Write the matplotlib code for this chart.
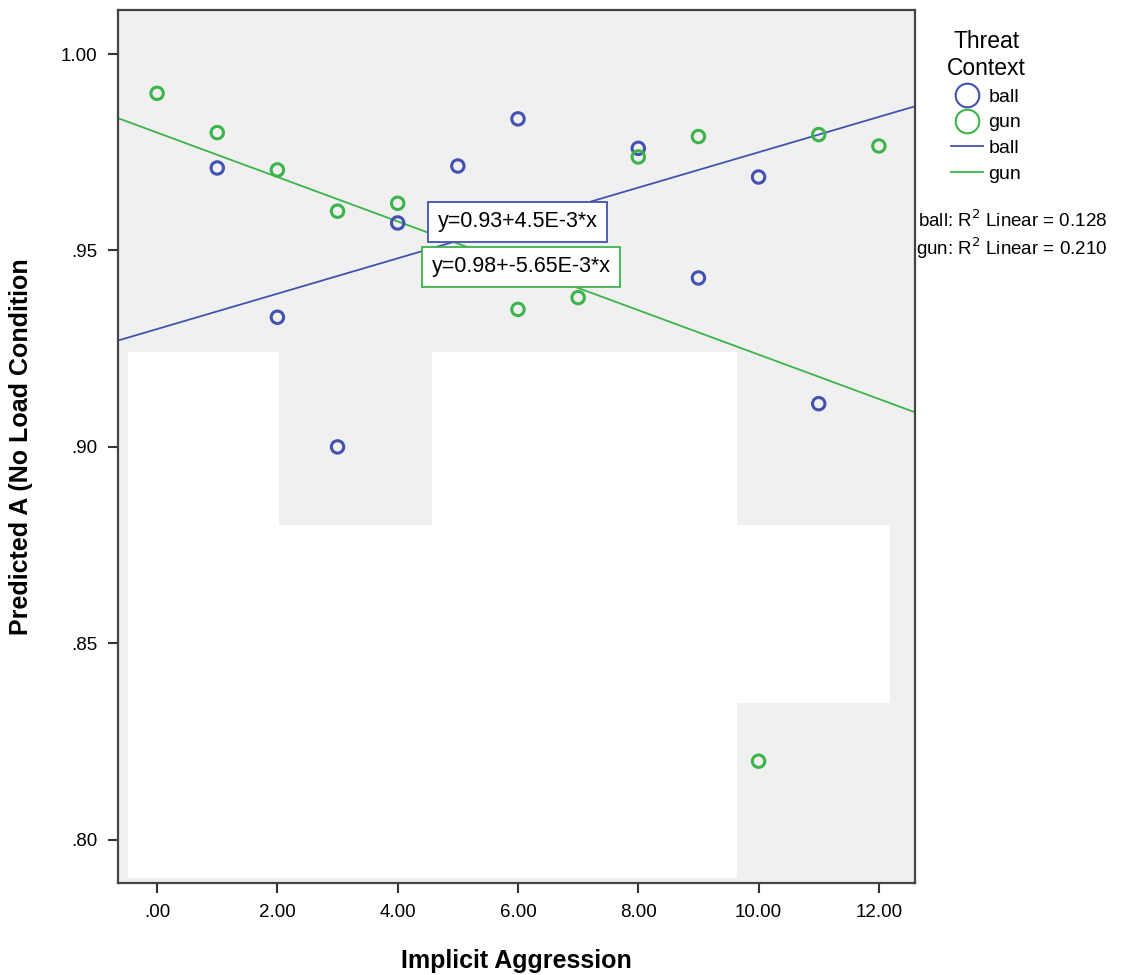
import matplotlib.pyplot as plt
import matplotlib.patches as mpatches
from matplotlib.lines import Line2D
import numpy as np

plt.rcParams['font.family'] = ['Liberation Sans', 'DejaVu Sans']

# scatter values
ball_x = [1, 2, 3, 4, 5, 6, 8, 9, 10, 11]
ball_y = [0.971, 0.933, 0.900, 0.957, 0.9715, 0.9835, 0.976, 0.943, 0.9687, 0.911]
gun_x = [0, 1, 2, 3, 4, 6, 7, 8, 9, 10, 11, 12]
gun_y = [0.990, 0.980, 0.9705, 0.960, 0.962, 0.935, 0.938, 0.9738, 0.979, 0.820, 0.9795, 0.9766]

# linear fits as printed on the chart (intercept, slope)
ball_fit = (0.93, 4.5e-3)
gun_fit = (0.98, -5.65e-3)
ball_r2 = 0.128
gun_r2 = 0.210

x_ticks = [0, 2, 4, 6, 8, 10, 12]
x_labels = ['.00', '2.00', '4.00', '6.00', '8.00', '10.00', '12.00']
y_ticks = [0.80, 0.85, 0.90, 0.95, 1.00]
y_labels = ['.80', '.85', '.90', '.95', '1.00']

blue = '#4252b0'
green = '#3cb44a'
xlim = (-0.65, 12.6)

fig = plt.figure(figsize=(11.48, 9.75), dpi=100)
ax = fig.add_axes([0.1028, 0.0944, 0.6942, 0.8953])
ax.set_facecolor('#f0f0f0')

# white blocks seen in the plot area
for (x0, y0, w, h) in [(0.0125, 0.0057, 0.1895, 0.6023),
                       (0.202, 0.0057, 0.192, 0.4043),
                       (0.394, 0.0057, 0.383, 0.6023),
                       (0.777, 0.206, 0.192, 0.204)]:
    ax.add_patch(mpatches.Rectangle((x0, y0), w, h, transform=ax.transAxes,
                                    facecolor='white', edgecolor='none', zorder=0))

xs = np.array(xlim)
ax.plot(xs, ball_fit[0] + ball_fit[1] * xs, color=blue, lw=1.3, zorder=2)
ax.plot(xs, gun_fit[0] + gun_fit[1] * xs, color=green, lw=1.3, zorder=2)

ax.scatter(ball_x, ball_y, s=80, facecolors='none', edgecolors=blue, linewidths=2.2, zorder=3)
ax.scatter(gun_x, gun_y, s=80, facecolors='none', edgecolors=green, linewidths=2.2, zorder=3)

ax.text(5.99, 0.9573, 'y=0.93+4.5E-3*x', ha='center', va='center', fontsize=15.5, zorder=4,
        bbox=dict(boxstyle='square,pad=0.45', facecolor='white', edgecolor=blue, lw=1.3))
ax.text(6.05, 0.9458, 'y=0.98+-5.65E-3*x', ha='center', va='center', fontsize=15.5, zorder=4,
        bbox=dict(boxstyle='square,pad=0.45', facecolor='white', edgecolor=green, lw=1.3))

ax.set_xlim(*xlim)
ax.set_ylim(0.789, 1.0112)
ax.set_xticks(x_ticks)
ax.set_xticklabels(x_labels, fontsize=13.5)
ax.set_yticks(y_ticks)
ax.set_yticklabels(y_labels, fontsize=13.5)
ax.tick_params(direction='out', length=7, width=1.5, color='#333333', pad=8)
for s in ax.spines.values():
    s.set_color('#444444')
    s.set_linewidth(1.6)

ax.set_xlabel('Implicit Aggression', fontsize=18, fontweight='bold', labelpad=20)
ax.set_ylabel('Predicted A (No Load Condition', fontsize=18, fontweight='bold', labelpad=20)

handles = [
    Line2D([], [], marker='o', ls='none', mfc='none', mec=blue, ms=17, mew=1.5, label='ball'),
    Line2D([], [], marker='o', ls='none', mfc='none', mec=green, ms=17, mew=1.5, label='gun'),
    Line2D([], [], color=blue, lw=1.3, label='ball'),
    Line2D([], [], color=green, lw=1.3, label='gun'),
]
leg = fig.legend(handles=handles, title='Threat\nContext', loc='upper left',
                 bbox_to_anchor=(0.818, 0.977), frameon=False, fontsize=14,
                 title_fontsize=16.5, handlelength=1.6, handletextpad=0.3,
                 labelspacing=0.42, borderaxespad=0)
leg._legend_box.align = 'center'
leg.get_title().set_multialignment('center')

fig.text(0.8, 0.774, f'ball: R$^2$ Linear = {ball_r2:.3f}', fontsize=13.5, va='center')
fig.text(0.798, 0.745, f'gun: R$^2$ Linear = {gun_r2:.3f}', fontsize=13.5, va='center')

fig.savefig('out.png', dpi=100)
